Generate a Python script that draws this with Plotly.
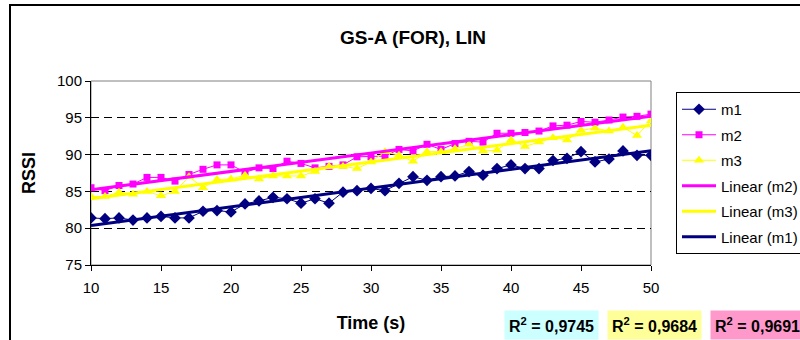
import numpy as np
import plotly.graph_objects as go

# Time axis (seconds) and RSSI readings for the three measurements
time_s = list(range(10, 51))

m1 = [81.4, 81.3, 81.4, 81.1, 81.4, 81.6, 81.4, 81.4, 82.3, 82.4,
      82.2, 83.3, 83.7, 84.2, 84.0, 83.4, 84.0, 83.4, 84.9, 85.1,
      85.4, 85.1, 86.1, 87.0, 86.5, 87.0, 87.1, 87.7, 87.2, 88.1,
      88.6, 88.1, 88.1, 89.2, 89.5, 90.4, 89.0, 89.4, 90.5, 89.9,
      89.9]

m2 = [85.5, 85.1, 85.8, 86.0, 86.9, 86.9, 86.4, 87.3, 88.0, 88.6,
      88.6, 87.6, 88.2, 88.1, 89.1, 88.8, 88.2, 88.4, 88.6, 89.7,
      89.7, 89.8, 90.7, 90.5, 91.4, 90.7, 91.5, 91.8, 91.7, 92.9,
      92.9, 93.0, 93.2, 93.9, 94.0, 94.5, 94.4, 94.7, 95.1, 95.2,
      95.5]

m3 = [84.3, 84.3, 84.9, 84.6, 85.0, 84.4, 85.0, 87.0, 85.5, 86.6,
      86.7, 87.2, 86.7, 87.1, 87.1, 87.1, 87.7, 88.4, 88.4, 88.1,
      89.0, 90.4, 89.9, 89.1, 90.4, 90.4, 90.8, 91.4, 90.5, 90.6,
      92.0, 91.1, 91.7, 92.3, 92.0, 93.3, 93.6, 93.2, 93.7, 92.6,
      94.6]

r2_labels = ["R<sup>2</sup> = 0,9745", "R<sup>2</sup> = 0,9684", "R<sup>2</sup> = 0,9691"]
r2_colors = ["#CCFFFF", "#FFFF99", "#FF99CC"]

NAVY = "#000080"
MAGENTA = "#FF00FF"
YELLOW = "#FFFF00"
FONT = "Liberation Sans, Arial, sans-serif"

W, H = 800, 340
L, R, T, B = 91, 149, 81, 75
PW, PH = W - L - R, H - T - B


def px_x(p):
    return (p - L) / PW


def px_y(p):
    return (H - B - p) / PH


def trend(y):
    k, b = np.polyfit(time_s, y, 1)
    xs = np.array([time_s[0], time_s[-1]])
    return xs, k * xs + b


fig = go.Figure()

series = [
    ("m1", m1, NAVY, "diamond", 9),
    ("m2", m2, MAGENTA, "square", 7),
    ("m3", m3, YELLOW, "triangle-up", 9),
]
for name, ys, col, sym, size in series:
    fig.add_trace(go.Scatter(
        x=time_s, y=ys, name=name, mode="lines+markers",
        line=dict(color=col, width=1),
        marker=dict(symbol=sym, size=size, color=col),
        legendgroup=name,
    ))

for name, ys, col in [("m2", m2, MAGENTA), ("m3", m3, YELLOW), ("m1", m1, NAVY)]:
    tx, ty = trend(ys)
    fig.add_trace(go.Scatter(
        x=tx, y=ty, name=f"Linear ({name})", mode="lines",
        line=dict(color=col, width=3),
        legendgroup="lin" + name,
    ))

# Plot-area frame (grey top/right) and outer chart border
fig.add_shape(type="rect", xref="paper", yref="paper", x0=0, x1=1, y0=0, y1=1,
              line=dict(color="#808080", width=1), layer="below")
fig.add_shape(type="rect", xref="paper", yref="paper",
              x0=px_x(10), x1=px_x(W + 20), y0=px_y(H + 20), y1=px_y(5),
              line=dict(color="#000000", width=2))

# R² boxes
r2_centers = [551, 654, 757]
for txt, bg, cx in zip(r2_labels, r2_colors, r2_centers):
    fig.add_annotation(
        x=px_x(cx), y=px_y(325), xref="paper", yref="paper",
        text=f"<b>{txt}</b>", showarrow=False,
        font=dict(family=FONT, size=16, color="black"),
        bgcolor=bg, borderpad=4, xanchor="center", yanchor="middle",
    )

fig.update_layout(
    width=W, height=H,
    margin=dict(l=L, r=R, t=T, b=B, autoexpand=False),
    paper_bgcolor="white", plot_bgcolor="white",
    font=dict(family=FONT, size=15, color="black"),
    title=dict(text="<b>GS-A (FOR), LIN</b>", x=413 / W, xref="container",
               y=1 - 37 / H, yref="container", xanchor="center", yanchor="middle",
               font=dict(family=FONT, size=19, color="black")),
    showlegend=True,
    legend=dict(x=px_x(676), y=px_y(92), xanchor="left", yanchor="top",
                bordercolor="black", borderwidth=1, bgcolor="white",
                font=dict(family=FONT, size=15, color="black"),
                tracegroupgap=3, traceorder="grouped", itemwidth=34),
    xaxis=dict(range=[10, 50], tickmode="linear", tick0=10, dtick=5,
               showline=True, linecolor="black", linewidth=1,
               ticks="outside", ticklen=5, tickcolor="black",
               ticklabelstandoff=4,
               tickfont=dict(family=FONT, size=15, color="black"),
               showgrid=False, zeroline=False,
               title=dict(text="<b>Time (s)</b>", standoff=21,
                          font=dict(family=FONT, size=18, color="black"))),
    yaxis=dict(range=[75, 100], tickmode="linear", tick0=75, dtick=5,
               showline=True, linecolor="black", linewidth=1,
               ticks="outside", ticklen=5, tickcolor="black",
               tickfont=dict(family=FONT, size=15, color="black"),
               showgrid=True, gridcolor="#000000", gridwidth=1, griddash="8px,5px",
               zeroline=False,
               title=dict(text="<b>RSSI</b>", standoff=16,
                          font=dict(family=FONT, size=18, color="black"))),
)

fig.write_html("out.html")
